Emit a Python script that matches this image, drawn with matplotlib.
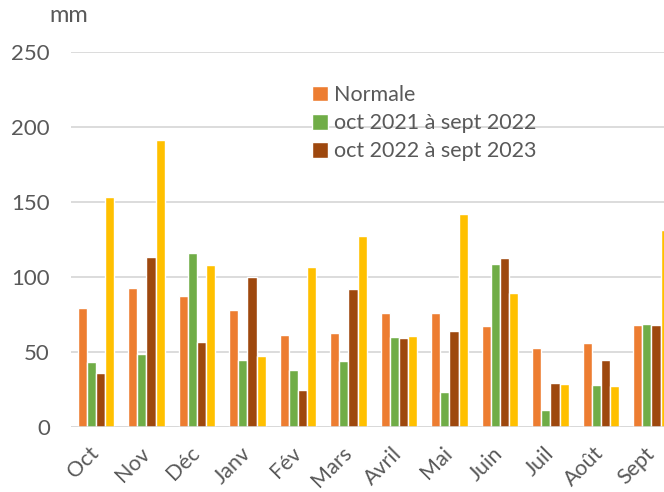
import matplotlib
matplotlib.use("Agg")
import matplotlib.pyplot as plt
import numpy as np

plt.rcParams['font.family'] = ['Lato', 'DejaVu Sans']

# monthly rainfall, mm
months = ["Oct", "Nov", "Déc", "Janv", "Fév", "Mars", "Avril", "Mai", "Juin", "Juil", "Août", "Sept"]
normale = [79, 92.5, 87, 78, 61, 62.5, 76, 75.5, 67, 52.5, 55.5, 68]
y2122 = [43, 48.5, 116, 44.5, 37.5, 44, 60, 23, 108.5, 11, 28, 68.5]
y2223 = [36, 113, 56.5, 100, 24.5, 92, 59, 63.5, 112.5, 29, 44.5, 67.5]
y_extra = [153, 191, 108, 47, 106.5, 127, 60.5, 142, 89, 28.5, 27, 131]

labels = ["Normale", "oct 2021 à sept 2022", "oct 2022 à sept 2023", None]
colors = ["#ED7D31", "#70AD47", "#9E480E", "#FFC000"]
series = [normale, y2122, y2223, y_extra]

fig = plt.figure(figsize=(6.64, 4.92), dpi=100)
ax = fig.add_axes([70.7 / 664, 65.3 / 492, 606 / 664, 375 / 492])

x = np.arange(len(months))
w = 0.18
for i, (vals, col, lab) in enumerate(zip(series, colors, labels)):
    ax.bar(x + (i - 1.5) * w, vals, width=w, color=col, edgecolor="white",
           linewidth=1.0, label=lab if lab else "_nolegend_", zorder=3)

ax.set_xlim(-0.5, len(months) - 0.5)
ax.set_ylim(0, 250)
ax.set_yticks([0, 50, 100, 150, 200, 250])
ax.yaxis.grid(True, color="#d9d9d9", linewidth=1.3, zorder=0)
ax.axhline(0, color="#d9d9d9", linewidth=1.8, zorder=4)
for s in ax.spines.values():
    s.set_visible(False)
ax.tick_params(axis="both", length=0, labelsize=16, labelcolor="#595959")
ax.tick_params(axis="y", pad=15)
ax.set_xticks(x)
ax.set_xticklabels(months, rotation=45, ha="right", va="center", rotation_mode="anchor")
ax.tick_params(axis="x", labelsize=15.5, pad=17)

fig.text(49 / 664, 1 - 16 / 492, "mm", fontsize=17, color="#595959", va="center")

leg = ax.legend(loc="upper left", bbox_to_anchor=(312 / 664, 1 - 85 / 492),
                bbox_transform=fig.transFigure, frameon=False, fontsize=15.5,
                handlelength=0.75, handleheight=0.75, handletextpad=0.25,
                labelspacing=0.38, borderpad=0, borderaxespad=0)
for t in leg.get_texts():
    t.set_color("#595959")

fig.savefig("out.png", dpi=100)
